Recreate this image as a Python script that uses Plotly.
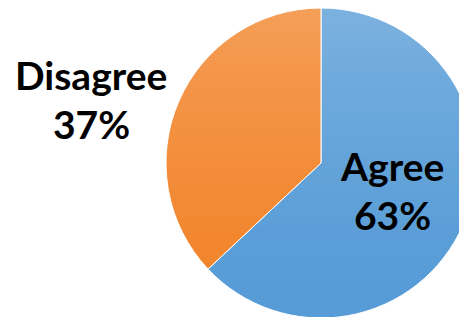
import plotly.graph_objects as go

labels = ["Agree", "Disagree"]
values = [63, 37]
pct_text = ["63%", "37%"]
colors = ["#579CD7", "#F2842A"]

# page body adds an 8px offset; figure coordinates are chosen accordingly
OFF = 8
W, H = 470, 313
cx, cy, r = 321 - OFF, 163 - OFF, 155

fig = go.Figure(go.Pie(
    labels=labels, values=values, sort=False, direction="clockwise", rotation=0,
    marker=dict(colors=colors, line=dict(color="#FFFFFF", width=1)),
    textinfo="none", hoverinfo="label+percent", showlegend=False,
    domain=dict(x=[(cx - r) / W, (cx + r) / W], y=[(H - cy - r) / H, min(1, (H - cy + r) / H)]),
))

# vertical lightening gradient over the pie (white overlay, invisible on white bg)
n = 50
top, bot = cy - r, cy + r
shapes = []
for i in range(n):
    y0 = top + (bot - top) * i / n
    y1 = top + (bot - top) * (i + 1) / n
    t = (i + 0.5) / n
    a = 0.22 * (1 - t) ** 1.5
    shapes.append(dict(type="rect", xref="paper", yref="paper", layer="above",
                       x0=(cx - r - 2) / W, x1=1, y0=max(0, 1 - y1 / H), y1=min(1, 1 - y0 / H),
                       fillcolor=f"rgba(255,255,255,{a:.3f})", line=dict(width=0)))

font = dict(family="Lato", size=39, color="#000000")
label_pos = {"Agree": (392, 166, 215), "Disagree": (91, 75, 124)}
annotations = []
for lab, pct in zip(labels, pct_text):
    x, y1, y2 = label_pos[lab]
    annotations.append(dict(x=(x - OFF) / W, y=1 - (y1 - OFF) / H, xref="paper", yref="paper",
                            text=f"<b>{lab}</b>", showarrow=False, xanchor="center",
                            yanchor="middle", font=font))
    annotations.append(dict(x=(x - OFF) / W, y=1 - (y2 - OFF) / H, xref="paper", yref="paper",
                            text=f"<b>{pct}</b>", showarrow=False, xanchor="center",
                            yanchor="middle", font=font))

fig.update_layout(width=W, height=H, margin=dict(l=0, r=0, t=0, b=0),
                  paper_bgcolor="white", plot_bgcolor="white",
                  shapes=shapes, annotations=annotations)
fig.write_html("out.html")
